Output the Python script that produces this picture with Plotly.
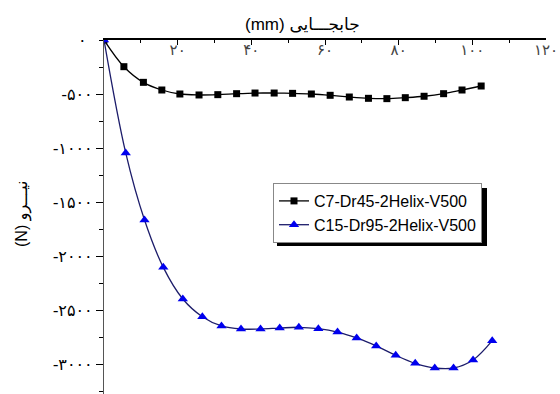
import plotly.graph_objects as go

# Data
x_c7 = [0, 5.4, 10.7, 15.7, 20.6, 25.8, 30.9, 36.0, 41.0, 46.2, 51.2, 56.3, 61.4, 66.6, 71.8, 76.8, 81.8, 86.9, 92.2, 97.2, 102.4]
y_c7 = [0, -247, -392, -463, -500, -509, -506, -497, -491, -491, -494, -500, -512, -528, -540, -543, -534, -521, -497, -463, -426]

x_c15 = [0, 5.9, 11.0, 16.1, 21.4, 26.7, 31.9, 37.2, 42.5, 47.7, 52.9, 58.2, 63.4, 68.6, 73.9, 79.2, 84.5, 89.8, 94.9, 100.2, 105.4]
y_c15 = [0, -1046, -1667, -2105, -2398, -2562, -2648, -2676, -2676, -2667, -2660, -2673, -2704, -2759, -2833, -2920, -2994, -3037, -3037, -2963, -2784]

name_c7 = "C7-Dr45-2Helix-V500"
name_c15 = "C15-Dr95-2Helix-V500"

x_tickvals = [20, 40, 60, 80, 100, 120]
x_ticktext = ["۲۰", "۴۰", "۶۰", "۸۰", "۱۰۰", "۱۲۰"]
y_tickvals = [-500, -1000, -1500, -2000, -2500, -3000]
y_ticktext = ["-۵۰۰", "-۱۰۰۰", "-۱۵۰۰", "-۲۰۰۰", "-۲۵۰۰", "-۳۰۰۰"]
y_zero_text = "۰"

x_title = "(mm) جابجـــایی"
y_title = "(N) نیـــرو"

W, H = 560, 394
L, R, T, B = 104, 14, 40, 0
pw, ph = W - L - R, H - T - B


def px_x(p):
    return (p - L) / pw


def px_y(p):
    return (H - B - p) / ph


font_main = "Arial, 'Liberation Sans', 'DejaVu Sans', sans-serif"
font_fa = "'Times New Roman', 'Liberation Serif', 'DejaVu Sans', serif"

fig = go.Figure()
fig.add_trace(go.Scatter(
    x=x_c7, y=y_c7, name=name_c7, mode="lines+markers",
    line=dict(color="black", width=1.3, shape="spline"),
    marker=dict(symbol="square", size=7, color="black"),
))
fig.add_trace(go.Scatter(
    x=x_c15, y=y_c15, name=name_c15, mode="lines+markers",
    line=dict(color="#1c1c6a", width=1.3, shape="spline"),
    marker=dict(symbol="triangle-up", size=9, color="#0000ee"),
))

fig.update_layout(
    width=W, height=H,
    margin=dict(l=L, r=R, t=T, b=B),
    paper_bgcolor="white", plot_bgcolor="white",
    font=dict(family=font_main, size=13, color="black"),
    showlegend=True,
    legend=dict(
        x=px_x(273), y=px_y(183), xanchor="left", yanchor="top",
        bgcolor="white", bordercolor="#888888", borderwidth=1,
        font=dict(family=font_main, size=16, color="black"),
        itemwidth=30, tracegroupgap=0,
    ),
    xaxis=dict(
        side="top", range=[0, 120], showgrid=False, zeroline=False,
        showline=True, linecolor="black", linewidth=1.5,
        tickvals=x_tickvals, ticktext=x_ticktext,
        ticks="inside", ticklen=5, tickwidth=1.2, tickcolor="black",
        ticklabelposition="inside", ticklabeloverflow="allow",
        minor=dict(dtick=10, tick0=0, ticks="inside", ticklen=3, tickcolor="black", tickwidth=1),
        tickfont=dict(family=font_fa, size=15),
    ),
    yaxis=dict(
        range=[-ph / 0.108, 0], showgrid=False, zeroline=False,
        showline=True, linecolor="#555555", linewidth=1.2,
        tickvals=y_tickvals, ticktext=y_ticktext,
        ticks="outside", ticklen=7, tickwidth=1.2, tickcolor="black",
        minor=dict(dtick=250, tick0=0, ticks="outside", ticklen=4, tickcolor="black", tickwidth=1),
        tickfont=dict(family=font_fa, size=16),
    ),
    shapes=[dict(
        type="rect", xref="paper", yref="paper", layer="above",
        x0=px_x(277), x1=px_x(487), y0=px_y(246), y1=px_y(188),
        fillcolor="black", line=dict(width=0),
    )],
    annotations=[
        dict(text=x_title, xref="paper", yref="paper", x=px_x(302), y=px_y(25),
             xanchor="center", yanchor="middle",
             showarrow=False, font=dict(family=font_main, size=17)),
        dict(text=y_title, xref="paper", yref="paper", x=px_x(22), y=px_y(214),
             xanchor="center", yanchor="middle",
             showarrow=False, textangle=-90, font=dict(family=font_main, size=16)),
        dict(text=y_zero_text, xref="paper", yref="y", x=px_x(82), y=0,
             xanchor="center", yanchor="middle",
             showarrow=False, font=dict(family=font_fa, size=16)),
    ],
)

fig.write_html("out.html")
